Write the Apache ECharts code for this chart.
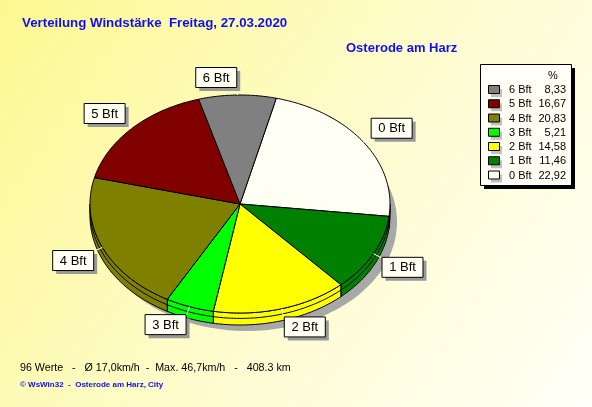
<!DOCTYPE html>
<html><head><meta charset="utf-8">
<script src="https://cdn.jsdelivr.net/npm/echarts@6/dist/echarts.min.js"></script>
<style>html,body{margin:0;padding:0;}#c{width:592px;height:407px;}</style>
</head><body><div id="c"></div>
<script>
// ---- data ----
const categories = ['0 Bft','1 Bft','2 Bft','3 Bft','4 Bft','5 Bft','6 Bft'];
const percents = [22.92, 11.46, 14.58, 5.21, 20.83, 16.67, 8.33];
const percentLabels = ['22,92','11,46','14,58','5,21','20,83','16,67','8,33'];
const legendOrder = [6,5,4,3,2,1,0];
const titleText = 'Verteilung Windstärke  Freitag, 27.03.2020';
const subtitleText = 'Osterode am Harz';
const statsText = '96 Werte   -   Ø 17,0km/h  -  Max. 46,7km/h   -   408.3 km';
const creditText = '© WsWin32  -  Osterode am Harz, City';

// ---- style ----
const colors = ['#fffff4','#008000','#ffff00','#00ff00','#808000','#800000','#808080'];
const FONT = 'Liberation Sans, Arial, sans-serif';
const CX = 240, CY = 204, RX = 150, RY = 109, DEPTH = 12, START = 14;

const total = percents.reduce((a,b)=>a+b,0);
const rad = d => d*Math.PI/180;
function pt(tDeg, dy, ex){ ex = ex||0; const t = rad(tDeg); return [CX + (RX+ex)*Math.sin(t), CY - (RY+ex)*Math.cos(t) + (dy||0)]; }
function arc(a,b,dy){ const pts=[]; const n=Math.max(2,Math.ceil((b-a)/1)); for(let i=0;i<=n;i++){pts.push(pt(a+(b-a)*i/n,dy));} return pts; }

function renderItem(params, api){
  const i = params.dataIndex;
  let cum = 0; for(let k=0;k<i;k++) cum += percents[k];
  const a = START + cum/total*360;
  const b = START + (cum + api.value(0))/total*360;
  const children = [];
  if(i===0){
    const sh=[]; for(let d=0; d<=360; d+=2){ const p=pt(d, DEPTH); sh.push([p[0]+7,p[1]+6]); }
    children.push({type:'polygon', shape:{points:sh}, style:{fill:'#a8a8a8'}, z2:0});
  }
  const ranges = [[90,270],[450,630]];
  ranges.forEach(r=>{
    const s=Math.max(a,r[0]), e=Math.min(b,r[1]);
    if(e>s){
      const top=arc(s,e,0), bot=arc(s,e,DEPTH).reverse();
      children.push({type:'polygon', shape:{points:top.concat(bot)}, style:{fill:colors[i], stroke:'#000', lineWidth:1}, z2:1});
      children.push({type:'polyline', shape:{points:arc(s,e,DEPTH*0.45)}, style:{fill:null, stroke:'#000', lineWidth:1}, z2:2});
    }
  });
  children.push({type:'polygon', shape:{points:[[CX,CY]].concat(arc(a,b,0))}, style:{fill:colors[i], stroke:'#000', lineWidth:1}, z2:3});
  // label
  const m = (a+b)/2, t = rad(m);
  const sx = Math.sin(t), cy = -Math.cos(t);
  const e0 = pt(m, 0, 0), e1 = pt(m, 0, 9);
  const w = 41, h = 20;
  const bx = sx>=0 ? e1[0] : e1[0]-w-1;
  const by = cy>=0 ? e1[1]-1 : e1[1]-h+1;
  children.push({type:'line', shape:{x1:e0[0],y1:e0[1],x2:e1[0],y2:e1[1]}, style:{stroke:'#ffffff', lineWidth:1}, z2:10});
  children.push({type:'rect', shape:{x:bx+4,y:by+4,width:w,height:h}, style:{fill:'#999999'}, z2:10});
  children.push({type:'rect', shape:{x:bx+0.5,y:by+0.5,width:w,height:h}, style:{fill:'#fffff2', stroke:'#000', lineWidth:1}, z2:11});
  children.push({type:'text', style:{x:bx+w/2+0.5, y:by+h/2+1, text:categories[i], fill:'#000', font:'13px '+FONT, align:'center', verticalAlign:'middle'}, z2:12});
  return {type:'group', children};
}

// legend graphics built from data arrays
const LX = 480, LY = 64, LW = 91, LH = 121;
const legendEls = [
  {type:'rect', shape:{x:LX+4,y:LY+4,width:LW,height:LH}, style:{fill:'#000'}},
  {type:'rect', shape:{x:LX+0.5,y:LY+0.5,width:LW,height:LH}, style:{fill:'#fffff6', stroke:'#000', lineWidth:1}},
  {type:'text', style:{x:553, y:76, text:'%', fill:'#000', font:'11px '+FONT, align:'center', verticalAlign:'middle'}}
];
legendOrder.forEach((idx,r)=>{
  const y = 90 + r*14.25;
  legendEls.push({type:'rect', shape:{x:491,y:y-1,width:11,height:8}, style:{fill:'#c0c0c0'}});
  legendEls.push({type:'rect', shape:{x:488.5,y:y-4.5,width:11,height:8}, style:{fill:colors[idx], stroke:'#000', lineWidth:1}});
  legendEls.push({type:'text', style:{x:509, y:y, text:categories[idx], fill:'#000', font:'11px '+FONT, verticalAlign:'middle'}});
  legendEls.push({type:'text', style:{x:566, y:y, text:percentLabels[idx], fill:'#000', font:'11px '+FONT, align:'right', verticalAlign:'middle'}});
});

const chart = echarts.init(document.getElementById('c'), null, {renderer:'canvas'});
chart.setOption({
  animation:false,
  backgroundColor: new echarts.graphic.LinearGradient(0,0,1,1,[{offset:0,color:'#fcf890'},{offset:0.55,color:'#fefcd0'},{offset:1,color:'#fffff8'}]),
  graphic:[
    {type:'text', left:22, top:17, style:{text:titleText, fill:'#1010f0', font:'bold 13.3px '+FONT}},
    {type:'text', left:346, top:42, style:{text:subtitleText, fill:'#1010f0', font:'bold 13px '+FONT}},
    {type:'text', left:20, top:363, style:{text:statsText, fill:'#000', font:'10.7px '+FONT}},
    {type:'text', left:20, top:381, style:{text:creditText, fill:'#1010f0', font:'bold 8px '+FONT}},
    {type:'group', silent:true, children: legendEls}
  ],
  series:[{
    type:'custom', coordinateSystem:'none',
    renderItem: renderItem,
    data: percents.map((v,i)=>({name:categories[i], value:[v]}))
  }]
});
</script></body></html>
